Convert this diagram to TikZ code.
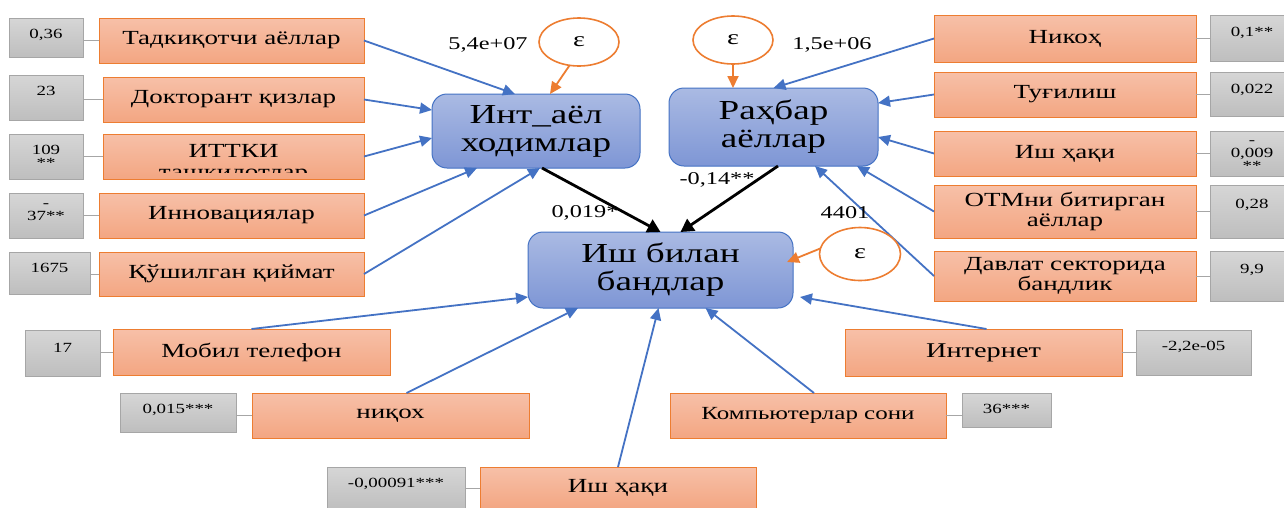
\documentclass[tikz,border=0pt]{standalone}
\usepackage{fontspec}
\setmainfont[FakeStretch=1.35]{Liberation Serif}
\usetikzlibrary{arrows.meta,shapes.geometric}

\definecolor{blueline}{RGB}{68,114,196}
\definecolor{bluetop}{RGB}{170,186,227}
\definecolor{bluebot}{RGB}{126,150,213}
\definecolor{orangeedge}{RGB}{237,125,49}
\definecolor{orangetop}{RGB}{247,192,168}
\definecolor{orangebot}{RGB}{243,166,130}
\definecolor{grayedge}{RGB}{166,166,166}
\definecolor{graytop}{RGB}{214,214,214}
\definecolor{graybot}{RGB}{190,190,190}

\tikzset{
  every node/.style={inner sep=0pt, outer sep=0pt},
  factor/.style={draw=orangeedge, line width=1pt, top color=orangetop,
    bottom color=orangebot, align=center, font=\fontsize{20}{20}\selectfont},
  coef/.style={draw=grayedge, line width=1pt, top color=graytop, bottom color=graybot},
  coeftext/.style={anchor=north, align=center, font=\fontsize{14}{13}\selectfont},
  latent/.style={draw=blueline, line width=1pt, rounded corners=15pt,
    top color=bluetop, bottom color=bluebot, align=center,
    font=\fontsize{27.5}{28}\selectfont},
  errterm/.style={ellipse, draw=orangeedge, line width=1.6pt, fill=white,
    font=\fontsize{21}{21}\selectfont},
  coeflabel/.style={font=\fontsize{18}{18}\selectfont},
  effect/.style={draw=blueline, line width=1.8pt, -{Triangle[length=12pt,width=11pt]}},
  errarrow/.style={draw=orangeedge, line width=1.8pt, -{Triangle[length=12pt,width=11pt]}},
  mainarrow/.style={draw=black, line width=2.8pt, -{Triangle[length=13pt,width=14pt]}},
  tie/.style={draw=grayedge, line width=1pt}
}

% box given by its corners: style, name, x1, y1, x2, y2, text
\newcommand\placebox[7]{%
  \node[#1, minimum width={(#5-#3)*1pt}, minimum height={(#6-#4)*1pt}]
    (#2) at ({(#3+#5)/2},{(#4+#6)/2}) {#7};}
% grey coefficient box with its value set near the top
\newcommand\coefbox[7][-11pt]{%
  \placebox{coef}{#2}{#3}{#4}{#5}{#6}{}%
  \node[coeftext] (#2t) at ([yshift=#1]#2.north) {#7};}

\begin{document}
\begin{tikzpicture}[x=1pt, y=-1pt]
\clip (0,0) rectangle (1284,507);
\fill[white] (0,0) rectangle (1284,507);

% latent variables
\placebox{latent}{ia}{432}{94}{640}{168}{Инт\_аёл\\ходимлар}
\placebox{latent}{rb}{669}{88}{878}{166}{Раҳбар\\аёллар}
\placebox{latent}{ib}{528}{232}{793}{308}{Иш билан\\бандлар}

% left indicators
\coefbox{g1}{9}{18}{83}{57}{0,36}
\coefbox{g2}{9}{75}{83}{120}{23}
\coefbox{g3}{9}{134}{83}{179}{109\\**}
\coefbox{g4}{9}{193}{83}{238}{-\\37**}
\coefbox{g5}{9}{252}{90}{294}{1675}
\placebox{factor}{f1}{99}{18}{364}{63}{Тадкиқотчи аёллар}
\placebox{factor}{f2}{103}{77}{364}{122}{Докторант қизлар}
\placebox{factor}{f3}{103}{134}{364}{179}{}
\begin{scope}
  \clip (103,134) rectangle (364,172);
  \node[anchor=base, font=\fontsize{20}{20}\selectfont] (f3a) at (233.5,157) {ИТТКИ};
  \node[anchor=base, font=\fontsize{20}{20}\selectfont] (f3b) at (233.5,178) {ташкилотлар};
\end{scope}
\placebox{factor}{f4}{99}{193}{364}{238}{Инновациялар}
\placebox{factor}{f5}{99}{252}{364}{296}{Қўшилган қиймат}
\foreach \g/\f in {g1/f1,g2/f2,g3/f3,g4/f4,g5/f5}
  \draw[tie] (\g.east |- \f.west) -- (\f.west);

% right indicators
\placebox{factor}{r1}{934}{15}{1196}{62}{Никоҳ}
\placebox{factor}{r2}{934}{72}{1196}{117}{Туғилиш}
\placebox{factor}{r3}{934}{131}{1196}{176}{Иш ҳақи}
\placebox{factor}{r4}{934}{185}{1196}{238}{ОТМни битирган\\аёллар}
\placebox{factor}{r5}{934}{251}{1196}{301}{Давлат секторида\\бандлик}
\coefbox[-12pt]{h1}{1210}{15}{1294}{61}{0,1**}
\coefbox[-12pt]{h2}{1210}{72}{1294}{116}{0,022}
\coefbox[-10pt]{h3}{1210}{131}{1294}{176}{\fontsize{14}{11}\selectfont -\\0,009\\**}
\coefbox[-14pt]{h4}{1210}{185}{1294}{238}{0,28}
\coefbox[-13pt]{h5}{1210}{251}{1294}{301}{9,9}
\foreach \f/\h in {r1/h1,r2/h2,r3/h3,r4/h4,r5/h5}
  \draw[tie] (\f.east) -- (\f.east -| \h.west);

% bottom indicators
\coefbox[-13pt]{k1}{25}{330}{100}{376}{17}
\placebox{factor}{b1}{113}{329}{390}{375}{Мобил телефон}
\coefbox{k2}{120}{393}{236}{432}{0,015***}
\placebox{factor}{b2}{252}{393}{529}{438}{ниқох}
\coefbox{k3}{327}{467}{465}{510}{-0,00091***}
\placebox{factor}{b3}{480}{467}{756}{509}{Иш ҳақи}
\placebox{factor}{b4}{670}{393}{946}{438}{\fontsize{18.5}{18.5}\selectfont Компьютерлар сони}
\coefbox{k4}{962}{393}{1051}{427}{36***}
\placebox{factor}{b5}{845}{329}{1122}{376}{\fontsize{21}{21}\selectfont Интернет}
\coefbox{k5}{1136}{330}{1251}{375}{-2,2e-05}
\foreach \k/\b in {k1/b1,k2/b2,k3/b3}
  \draw[tie] (\k.east |- \b.west) -- (\b.west);
\foreach \b/\k in {b4/k4,b5/k5}
  \draw[tie] (\b.east) -- (\b.east -| \k.west);

% effects on the two women-related latent variables
\draw[effect] (f1.east) -- ([xshift=83pt]ia.north west);
\draw[effect] (f2.east) -- ([yshift=21pt]ia.west);
\draw[effect] (f3.east) -- ([yshift=-7pt]ia.west);
\draw[effect] (f4.east) -- ([xshift=45pt]ia.south west);
\draw[effect] (f5.east) -- ([xshift=4pt]ia.south);
\draw[effect] (r1.west) -- (rb.north);
\draw[effect] (r2.west) -- ([yshift=24pt]rb.east);
\draw[effect] (r3.west) -- ([yshift=-10pt]rb.east);
\draw[effect] (r4.west) -- ([xshift=-21pt]rb.south east);
\draw[effect] (r5.west) -- ([xshift=-63pt]rb.south east);

% effects on employment
\draw[effect] (b1.north) -- ([yshift=11pt]ib.south west);
\draw[effect] ([xshift=16pt]b2.north) -- ([xshift=50pt]ib.south west);
\draw[effect] (b3.north) -- ([xshift=-2pt]ib.south);
\draw[effect] ([xshift=6pt]b4.north) -- ([xshift=45pt]ib.south);
\draw[effect] ([xshift=3pt]b5.north) -- ([xshift=7pt,yshift=11pt]ib.south east);
\draw[mainarrow] ([xshift=6pt]ia.south) -- (ib.north);
\draw[mainarrow] ([xshift=4.5pt]rb.south) -- ([xshift=20pt]ib.north);

% error terms
\node[errterm, minimum width=80pt, minimum height=48pt] (e1) at (579,42) {ε};
\node[errterm, minimum width=80pt, minimum height=48pt] (e2) at (733,40) {ε};
\node[errterm, minimum width=81pt, minimum height=53pt] (e3) at (860,254) {ε};
\draw[errarrow] (e1.-112) -- ([xshift=14pt]ia.north);
\draw[errarrow] (e2.south) -- ([xshift=-40.5pt]rb.north);
\draw[errarrow] (e3.172) -- ([xshift=-6pt,yshift=8pt]ib.east);

% path coefficients
\node[coeflabel] (c1) at (488,45) {5,4e+07};
\node[coeflabel] (c2) at (832,45) {1,5e+06};
\node[coeflabel] (c3) at (717,180) {-0,14**};
\node[coeflabel] (c4) at (585,213) {0,019*};
\node[coeflabel] (c5) at (845,213) {4401};
\end{tikzpicture}
\end{document}
